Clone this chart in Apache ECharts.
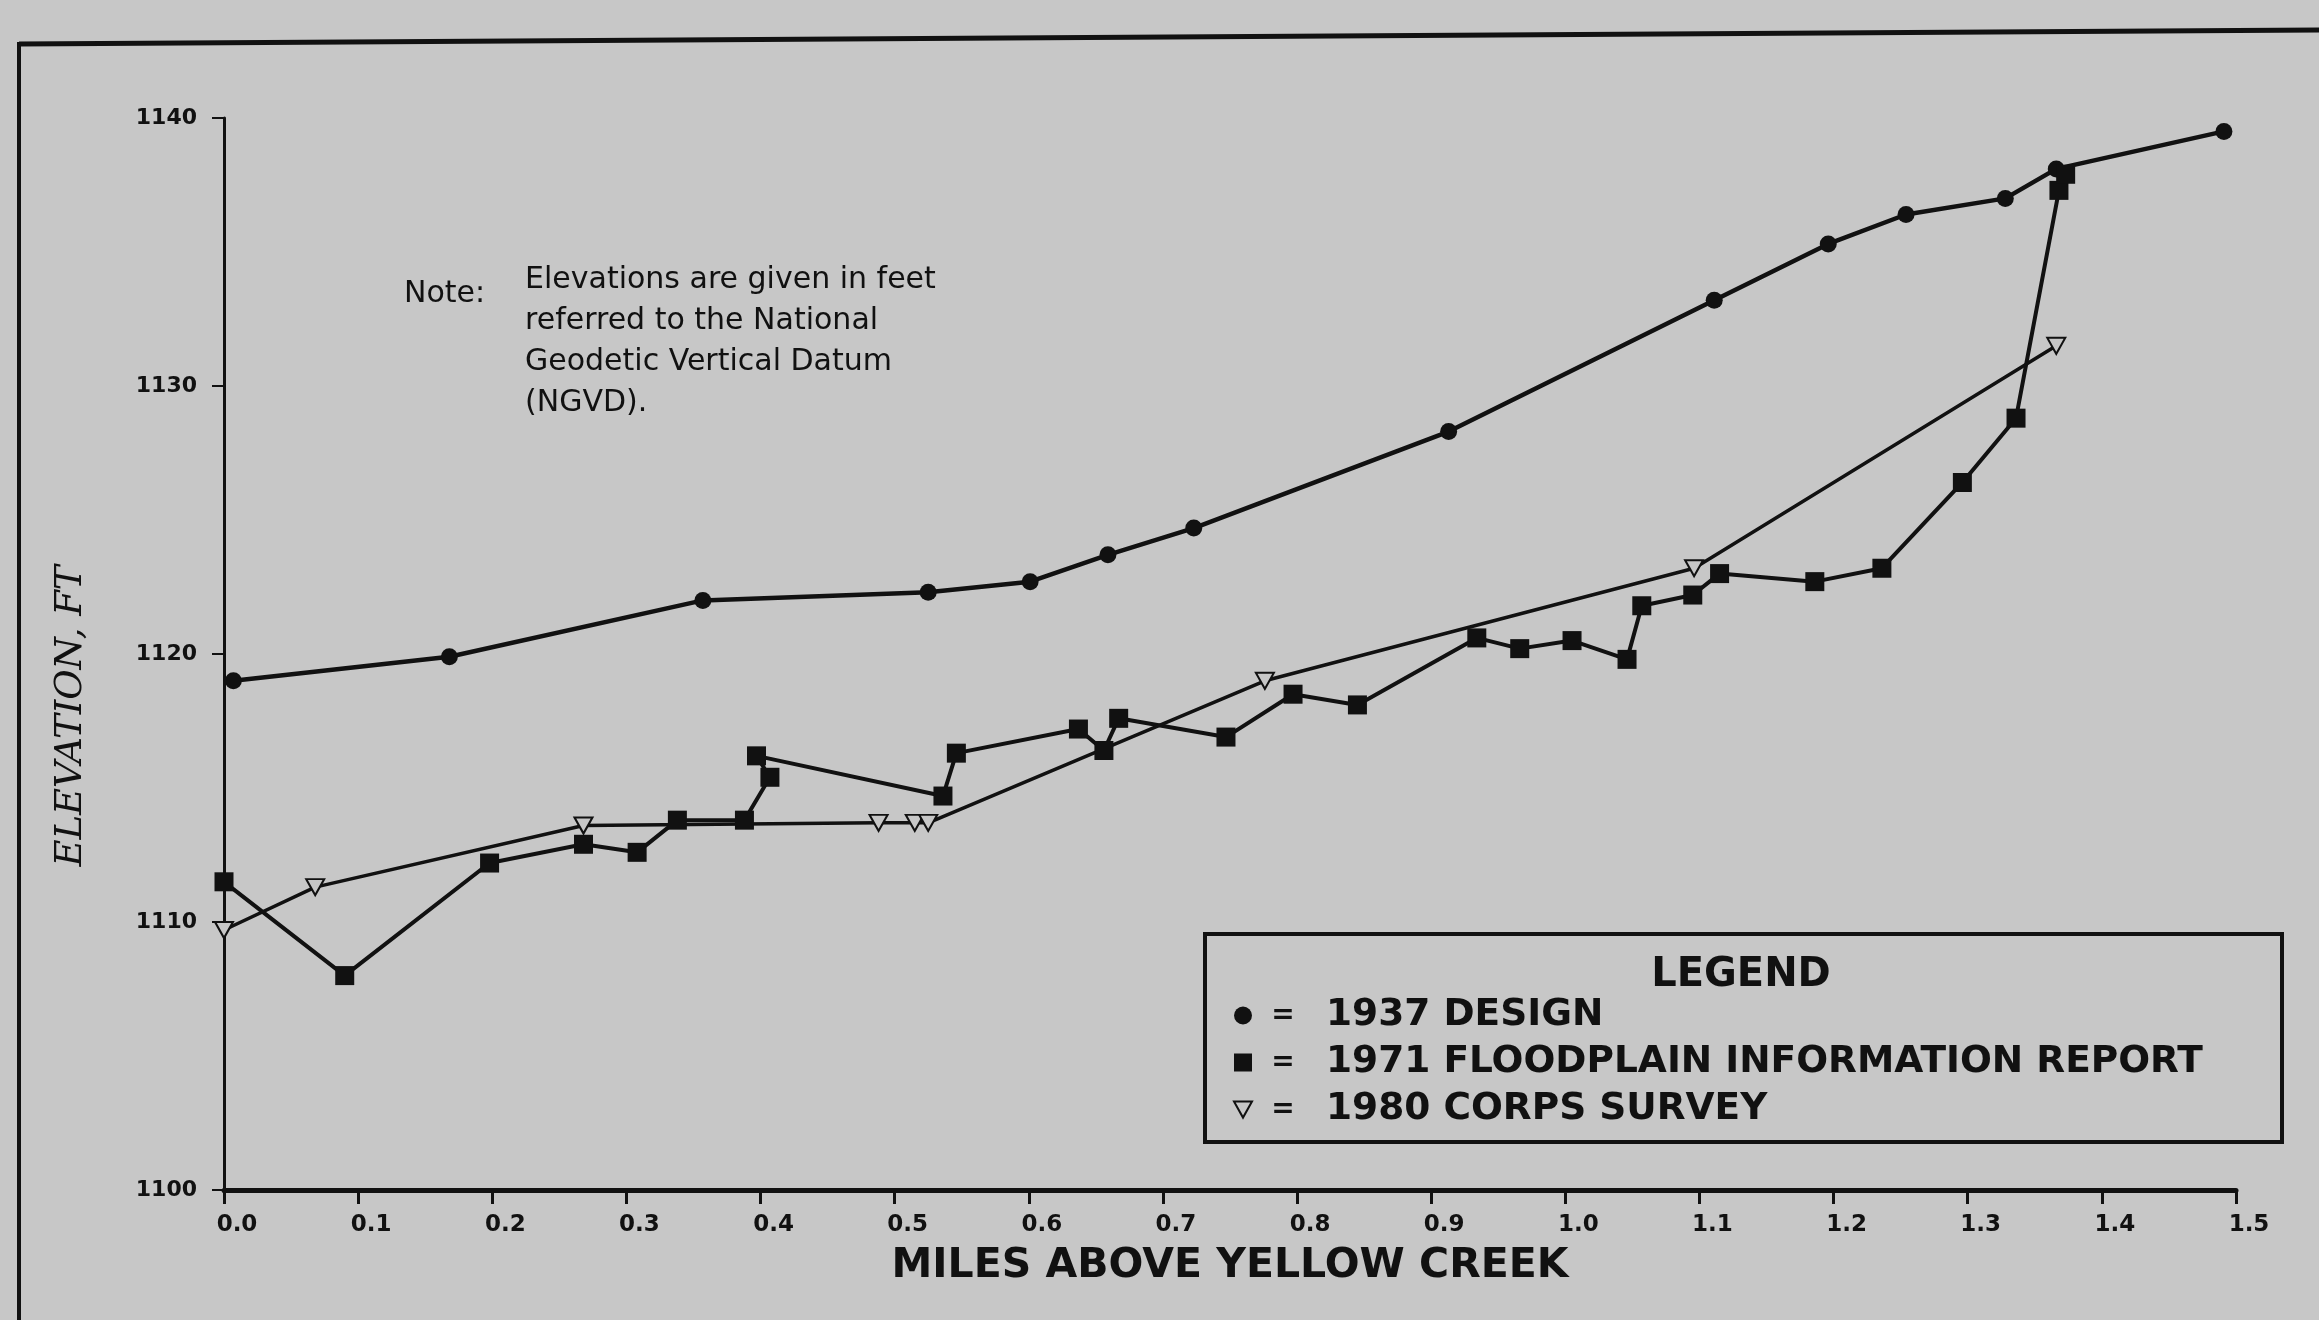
<!DOCTYPE html>
<html>
<head>
<meta charset="utf-8">
<title>Elevation profile above Yellow Creek</title>
<script src="https://cdn.jsdelivr.net/npm/echarts/dist/echarts.min.js"></script>
<style>
	html, body {
		margin: 0;
		padding: 0;
		background: #c7c7c7;
	}
	#chart {
		width: 2319px;
		height: 1320px;
	}
</style>
</head>
<body>
<div id="chart"></div>
<script>
// 1937 design (circles)
const miles1937 = [0.007, 0.168, 0.357, 0.525, 0.601, 0.659, 0.723, 0.913, 1.111, 1.196, 1.254, 1.328, 1.366, 1.491];
const elev1937 = [1119.0, 1119.9, 1122.0, 1122.3, 1122.7, 1123.7, 1124.7, 1128.3, 1133.2, 1135.3, 1136.4, 1137.0, 1138.1, 1139.5];

// 1971 floodplain information report (squares), in the order the line is drawn
const miles1971 = [0.0, 0.090, 0.198, 0.268, 0.308, 0.338, 0.388, 0.407, 0.397, 0.536, 0.546, 0.637, 0.656, 0.667, 0.747,
	0.797, 0.845, 0.934, 0.966, 1.005, 1.046, 1.057, 1.095, 1.115, 1.186, 1.236, 1.296, 1.336, 1.368, 1.373];
const elev1971 = [1111.5, 1108.0, 1112.2, 1112.9, 1112.6, 1113.8, 1113.8, 1115.4, 1116.2, 1114.7, 1116.3, 1117.2, 1116.4, 1117.6, 1116.9,
	1118.5, 1118.1, 1120.6, 1120.2, 1120.5, 1119.8, 1121.8, 1122.2, 1123.0, 1122.7, 1123.2, 1126.4, 1128.8, 1137.3, 1137.9];

// 1980 corps survey (open triangles)
const miles1980 = [0.0, 0.068, 0.268, 0.488, 0.515, 0.525, 0.776, 1.096, 1.366];
const elev1980 = [1109.7, 1111.3, 1113.6, 1113.7, 1113.7, 1113.7, 1119.0, 1123.2, 1131.5];

// series names / axis texts
const seriesNames = ['1937 DESIGN', '1971 FLOODPLAIN INFORMATION REPORT', '1980 CORPS SURVEY'];
const noteLines = ['Elevations are given in feet', 'referred to the National', 'Geodetic Vertical Datum', '(NGVD).'];

const BG = '#c7c7c7';
const INK = '#111';
const TRIANGLE = 'path://M0,0 L20,0 L10,18 Z';

function pairs(xs, ys) {
	return xs.map((x, i) => [x, ys[i]]);
}

let myChart = echarts.init(document.getElementById('chart'));

myChart.setOption({
	animation: false,
	backgroundColor: BG,
	grid: {
		left: 224,
		right: 83,
		top: 118,
		bottom: 130
	},
	xAxis: {
		type: 'value',
		min: 0,
		max: 1.5,
		interval: 0.1,
		name: 'MILES ABOVE YELLOW CREEK',
		nameLocation: 'middle',
		nameGap: 56,
		nameTextStyle: {
			color: INK,
			fontFamily: 'DejaVu Sans',
			fontWeight: 'bold',
			fontSize: 41
		},
		axisLine: { lineStyle: { color: INK, width: 5 } },
		axisTick: { length: 14, lineStyle: { color: INK, width: 3 } },
		axisLabel: {
			margin: 24,
			color: INK,
			fontFamily: 'DejaVu Sans',
			fontWeight: 'bold',
			fontSize: 23,
			padding: [0, 0, 0, 26],
			formatter: v => v.toFixed(1)
		},
		splitLine: { show: false }
	},
	yAxis: {
		type: 'value',
		min: 1100,
		max: 1140,
		interval: 10,
		axisLine: { show: true, lineStyle: { color: INK, width: 3 } },
		axisTick: { show: true, length: 12, lineStyle: { color: INK, width: 2 } },
		axisLabel: {
			margin: 27,
			color: INK,
			fontFamily: 'DejaVu Sans',
			fontWeight: 'bold',
			fontSize: 22,
			formatter: v => String(v)
		},
		splitLine: { show: false }
	},
	legend: {
		orient: 'vertical',
		left: 1228,
		top: 987,
		itemGap: 0,
		itemWidth: 18,
		itemHeight: 18,
		// 图例只画符号，不画线
		data: [
			{ name: seriesNames[0], icon: 'circle' },
			{ name: seriesNames[1], icon: 'rect' },
			{ name: seriesNames[2], icon: TRIANGLE }
		],
		formatter: name => '{eq|=}{t|' + name + '}',
		textStyle: {
			color: INK,
			fontFamily: 'DejaVu Sans',
			fontWeight: 'bold',
			fontSize: 38,
			lineHeight: 47,
			rich: {
				eq: { width: 52, align: 'center', fontSize: 28, fontWeight: 'bold', fontFamily: 'DejaVu Sans', color: INK },
				t: { padding: [0, 0, 0, 17], fontSize: 37.5, fontWeight: 'bold', fontFamily: 'DejaVu Sans', color: INK }
			}
		}
	},
	graphic: [
		// 扫描件外框
		{ type: 'line', shape: { x1: 19, y1: 44, x2: 2319, y2: 30 }, style: { stroke: INK, lineWidth: 5 } },
		{ type: 'line', shape: { x1: 19, y1: 42, x2: 19, y2: 1320 }, style: { stroke: INK, lineWidth: 4 } },
		// legend box
		{
			type: 'rect',
			shape: { x: 1205, y: 934, width: 1077, height: 208 },
			style: { fill: 'none', stroke: INK, lineWidth: 4 },
			z: 10
		},
		{
			type: 'text',
			x: 1741,
			y: 976,
			style: {
				text: 'LEGEND',
				align: 'center',
				verticalAlign: 'middle',
				fill: INK,
				font: 'bold 40px "DejaVu Sans"'
			},
			z: 10
		},
		// y axis name
		{
			type: 'text',
			x: 71,
			y: 716,
			rotation: Math.PI / 2,
			style: {
				text: 'ELEVATION, FT',
				align: 'center',
				verticalAlign: 'middle',
				fill: INK,
				font: 'italic 37px "DejaVu Serif"'
			}
		},
		// note
		{
			type: 'text',
			x: 404,
			y: 294,
			style: {
				text: 'Note:',
				align: 'left',
				verticalAlign: 'middle',
				fill: INK,
				font: '30px "DejaVu Sans"'
			}
		},
		{
			type: 'text',
			x: 525,
			y: 260,
			style: {
				text: noteLines.join('\n'),
				align: 'left',
				verticalAlign: 'top',
				lineHeight: 41,
				fill: INK,
				font: '30px "DejaVu Sans"'
			}
		}
	],
	series: [
		{
			name: seriesNames[0],
			type: 'line',
			data: pairs(miles1937, elev1937),
			symbol: 'circle',
			symbolSize: 17,
			lineStyle: { color: INK, width: 4.5 },
			itemStyle: { color: INK }
		},
		{
			name: seriesNames[1],
			type: 'line',
			data: pairs(miles1971, elev1971),
			symbol: 'rect',
			symbolSize: 19,
			lineStyle: { color: INK, width: 4 },
			itemStyle: { color: INK }
		},
		{
			name: seriesNames[2],
			type: 'line',
			data: pairs(miles1980, elev1980),
			symbol: TRIANGLE,
			symbolSize: [18, 16],
			lineStyle: { color: INK, width: 3.5 },
			itemStyle: { color: BG, borderColor: INK, borderWidth: 2 }
		}
	]
});
</script>
</body>
</html>
